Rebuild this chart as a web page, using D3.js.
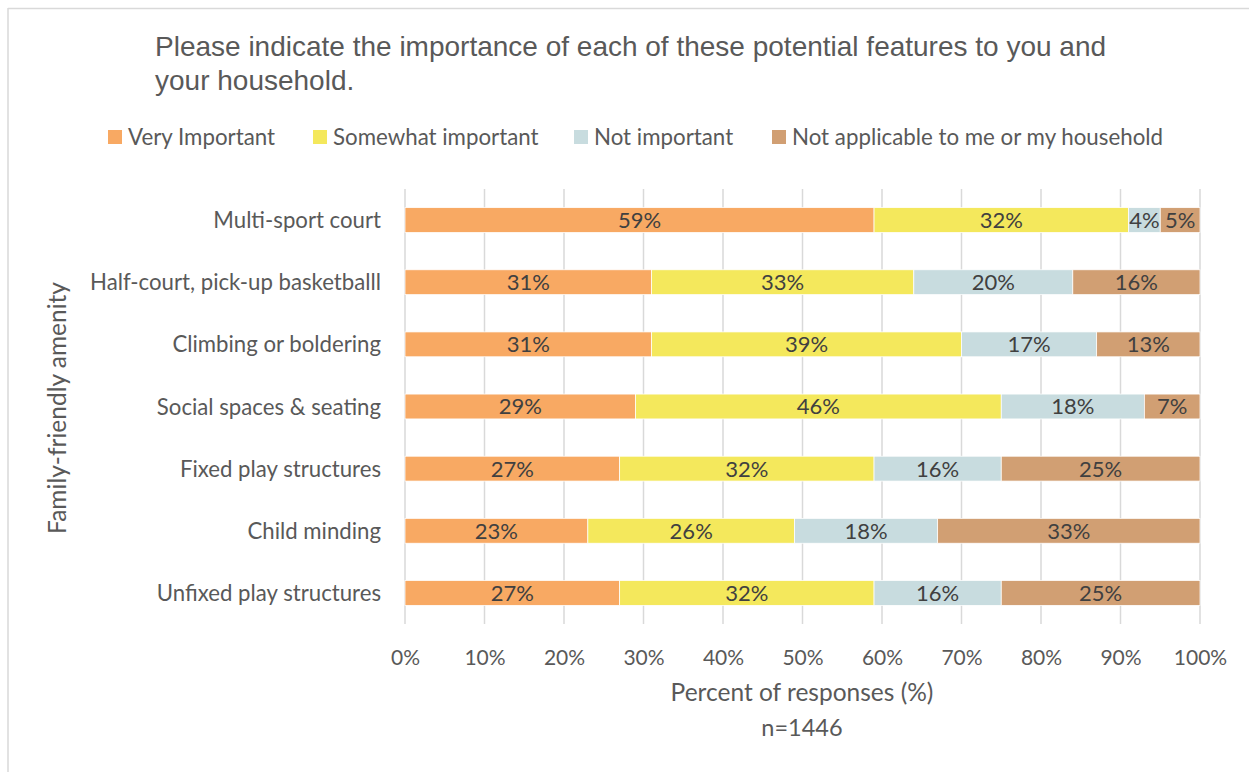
<!DOCTYPE html>
<html>
<head>
<meta charset="utf-8">
<script src="https://cdn.jsdelivr.net/npm/d3@7"></script>
<style>
  html, body { margin: 0; padding: 0; background: #fff; }
  svg { display: block; }
</style>
</head>
<body>
<svg id="chart" width="1249" height="772"></svg>
<script>
// Amenities, top to bottom
const categories = [
  "Multi-sport court",
  "Half-court, pick-up basketballl",
  "Climbing or boldering",
  "Social spaces & seating",
  "Fixed play structures",
  "Child minding",
  "Unfixed play structures"
];

// Response levels and their colours
const seriesNames = [
  "Very Important",
  "Somewhat important",
  "Not important",
  "Not applicable to me or my household"
];
const seriesColors = ["#F8A963", "#F4E85C", "#C8DCDF", "#D19F73"];

// Percent of responses per amenity, one array per response level
const veryImportant     = [59, 31, 31, 29, 27, 23, 27];
const somewhatImportant = [32, 33, 39, 46, 32, 26, 32];
const notImportant      = [4, 20, 17, 18, 16, 18, 16];
const notApplicable     = [5, 16, 13, 7, 25, 33, 25];

const xTicks = [0, 10, 20, 30, 40, 50, 60, 70, 80, 90, 100];

const titleLines = [
  "Please indicate the importance of each of these potential features to you and",
  "your household."
];
const xTitle = "Percent of responses (%)";
const xNote = "n=1446";
const yTitle = "Family-friendly amenity";

const labelFont = "Lato, 'Open Sans', sans-serif";
const titleFont = "'Liberation Sans', Arial, sans-serif";

const svg = d3.select("#chart");

// Outer frame (top and left edges visible)
svg.append("line").attr("x1", 8).attr("x2", 1249).attr("y1", 8.5).attr("y2", 8.5)
  .attr("stroke", "#d9d9d9").attr("stroke-width", 1.5);
svg.append("line").attr("x1", 8).attr("x2", 8).attr("y1", 8).attr("y2", 772)
  .attr("stroke", "#d9d9d9").attr("stroke-width", 1.5);

// Title
svg.append("text")
  .attr("font-family", titleFont)
  .attr("font-size", 28)
  .attr("fill", "#595959")
  .selectAll("tspan")
  .data(titleLines)
  .join("tspan")
  .attr("x", 155)
  .attr("y", (d, i) => 56 + i * 34)
  .text(d => d);

// Stack layout
const rows = categories.map((c, i) => ({
  category: c,
  s0: veryImportant[i],
  s1: somewhatImportant[i],
  s2: notImportant[i],
  s3: notApplicable[i]
}));
const keys = ["s0", "s1", "s2", "s3"];
const stacked = d3.stack().keys(keys)(rows);

const x = d3.scaleLinear().domain([0, 100]).range([405, 1200]);
const y = d3.scaleBand().domain(categories).range([189, 624])
  .paddingInner(0.6).paddingOuter(0.3);

// Gridlines
svg.append("g")
  .selectAll("line")
  .data(xTicks)
  .join("line")
  .attr("x1", d => x(d)).attr("x2", d => x(d))
  .attr("y1", 189).attr("y2", 624)
  .attr("stroke", "#d9d9d9").attr("stroke-width", 1.5);

// Bars
const layers = svg.append("g")
  .selectAll("g")
  .data(stacked)
  .join("g")
  .attr("fill", (d, i) => seriesColors[i]);

layers.selectAll("rect")
  .data(d => d)
  .join("rect")
  .attr("x", d => x(d[0]))
  .attr("width", d => x(d[1]) - x(d[0]))
  .attr("y", d => y(d.data.category))
  .attr("height", y.bandwidth())
  .attr("stroke", "#fff")
  .attr("stroke-width", 0.75);

// Data labels
layers.selectAll("text")
  .data(d => d.map(v => ({ v, key: d.key })))
  .join("text")
  .attr("x", d => (x(d.v[0]) + x(d.v[1])) / 2)
  .attr("y", d => y(d.v.data.category) + y.bandwidth() / 2)
  .attr("dy", "0.36em")
  .attr("text-anchor", "middle")
  .attr("font-family", labelFont)
  .attr("font-size", 22)
  .attr("fill", "#404040")
  .text(d => (d.v[1] - d.v[0]) + "%");

// Category axis
const yAxis = svg.append("g")
  .attr("transform", "translate(405,0)")
  .call(d3.axisLeft(y).tickSize(0).tickPadding(24));
yAxis.select(".domain").remove();
yAxis.selectAll("text")
  .attr("font-family", labelFont)
  .attr("font-size", 22.2)
  .attr("fill", "#595959")
  .attr("dy", "0.36em");

// Percent axis
const xAxis = svg.append("g")
  .attr("transform", "translate(0,624)")
  .call(d3.axisBottom(x).tickValues(xTicks).tickSize(0).tickPadding(26)
    .tickFormat(d => d + "%"));
xAxis.select(".domain").remove();
xAxis.selectAll("text")
  .attr("font-family", labelFont)
  .attr("font-size", 21)
  .attr("fill", "#595959");

// Axis titles
svg.append("text")
  .attr("x", 802).attr("y", 701)
  .attr("text-anchor", "middle")
  .attr("font-family", labelFont).attr("font-size", 24.5)
  .attr("fill", "#595959")
  .text(xTitle);
svg.append("text")
  .attr("x", 802).attr("y", 736)
  .attr("text-anchor", "middle")
  .attr("font-family", labelFont).attr("font-size", 23.5)
  .attr("fill", "#595959")
  .text(xNote);
svg.append("text")
  .attr("transform", "translate(66,408) rotate(-90)")
  .attr("text-anchor", "middle")
  .attr("font-family", labelFont).attr("font-size", 24.5)
  .attr("fill", "#595959")
  .text(yTitle);

// Legend
const legendX = [108, 313, 574, 772];
const legend = svg.append("g")
  .selectAll("g")
  .data(seriesNames)
  .join("g")
  .attr("transform", (d, i) => `translate(${legendX[i]},130)`);
legend.append("rect")
  .attr("width", 14).attr("height", 14)
  .attr("fill", (d, i) => seriesColors[i]);
legend.append("text")
  .attr("x", 20).attr("y", 7).attr("dy", "0.36em")
  .attr("font-family", labelFont).attr("font-size", 22.3)
  .attr("fill", "#595959")
  .text(d => d);
</script>
</body>
</html>
